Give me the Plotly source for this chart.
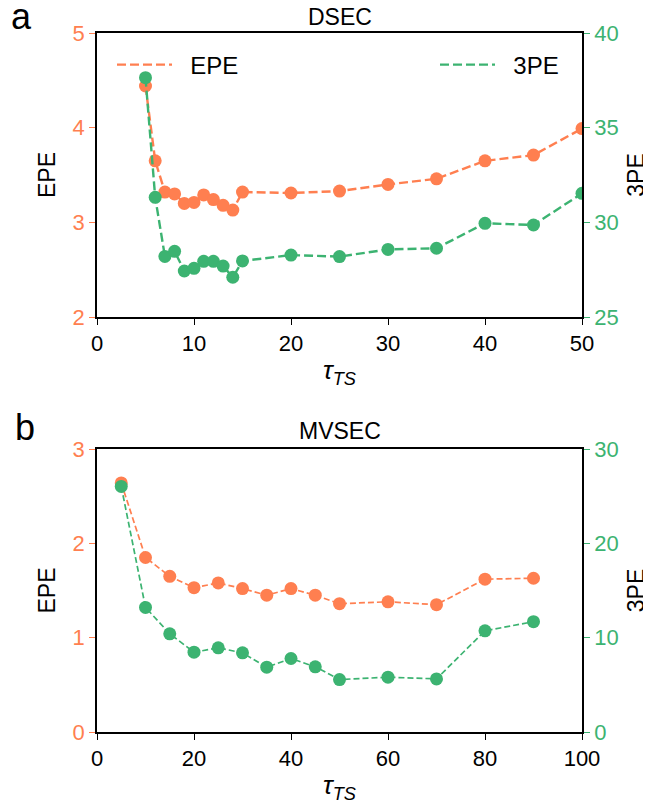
import plotly.graph_objects as go

# ---- data ----
dsec_tau = [5, 6, 7, 8, 9, 10, 11, 12, 13, 14, 15, 20, 25, 30, 35, 40, 45, 50]
dsec_epe = [4.44, 3.65, 3.32, 3.30, 3.20, 3.21, 3.29, 3.24, 3.18, 3.13, 3.32, 3.31, 3.33, 3.40, 3.46, 3.65, 3.71, 3.99]
dsec_3pe = [37.64, 31.32, 28.20, 28.47, 27.43, 27.57, 27.94, 27.94, 27.69, 27.10, 27.96, 28.27, 28.19, 28.57, 28.63, 29.95, 29.86, 31.53]

mvsec_tau = [5, 10, 15, 20, 25, 30, 35, 40, 45, 50, 60, 70, 80, 90]
mvsec_epe = [2.64, 1.85, 1.65, 1.53, 1.58, 1.52, 1.45, 1.52, 1.45, 1.36, 1.38, 1.35, 1.62, 1.63]
mvsec_3pe = [26.03, 13.21, 10.41, 8.46, 8.92, 8.39, 6.87, 7.79, 6.91, 5.56, 5.81, 5.63, 10.73, 11.69]

dsec_xticks = [0, 10, 20, 30, 40, 50]
mvsec_xticks = [0, 20, 40, 60, 80, 100]
dsec_epe_ticks = [2, 3, 4, 5]
dsec_3pe_ticks = [25, 30, 35, 40]
mvsec_epe_ticks = [0, 1, 2, 3]
mvsec_3pe_ticks = [0, 10, 20, 30]

ORANGE = "#FF7F50"
GREEN = "#3CB371"
FONT = "Liberation Sans, Arial, sans-serif"

W, H = 651, 805
OFF = 8  # default page body margin
ML, MR, MT, MB = 97, 69, 33, 73
PW, PH = W - ML - MR, H - MT - MB


def px_x(v):
    return (v - ML) / PW


def px_y(v):
    return (H - MB - v) / PH


top_dom = [px_y(317), 1.0]
bot_dom = [0.0, px_y(449)]

fig = go.Figure()

TOP_DASH = "9px,4px"
BOT_DASH = "6px,3px"

# top panel
fig.add_trace(go.Scatter(x=dsec_tau, y=dsec_epe, mode="lines+markers", xaxis="x", yaxis="y",
                         line=dict(color=ORANGE, width=2.4, dash=TOP_DASH),
                         marker=dict(color=ORANGE, size=13), showlegend=False))
fig.add_trace(go.Scatter(x=dsec_tau, y=dsec_3pe, mode="lines+markers", xaxis="x", yaxis="y2",
                         line=dict(color=GREEN, width=2.4, dash=TOP_DASH),
                         marker=dict(color=GREEN, size=13), showlegend=False))
# legend entries (line-only samples)
fig.add_trace(go.Scatter(x=[None], y=[None], mode="lines", xaxis="x", yaxis="y",
                         name="\u00a0\u00a0EPE",
                         line=dict(color=ORANGE, width=2.4, dash=TOP_DASH), legend="legend"))
fig.add_trace(go.Scatter(x=[None], y=[None], mode="lines", xaxis="x", yaxis="y2",
                         name="\u00a0\u00a03PE",
                         line=dict(color=GREEN, width=2.4, dash=TOP_DASH), legend="legend2"))

# bottom panel
fig.add_trace(go.Scatter(x=mvsec_tau, y=mvsec_epe, mode="lines+markers", xaxis="x2", yaxis="y3",
                         line=dict(color=ORANGE, width=1.7, dash=BOT_DASH),
                         marker=dict(color=ORANGE, size=13), showlegend=False))
fig.add_trace(go.Scatter(x=mvsec_tau, y=mvsec_3pe, mode="lines+markers", xaxis="x2", yaxis="y4",
                         line=dict(color=GREEN, width=1.7, dash=BOT_DASH),
                         marker=dict(color=GREEN, size=13), showlegend=False))

TICK_FS = 22
tickfont = dict(family=FONT, size=TICK_FS, color="black")
xtitle = dict(text="<i>τ</i><sub><i>TS</i></sub>", font=dict(family=FONT, size=26, color="black"), standoff=6)


def xaxis(dom_anchor, rng, ticks):
    return dict(domain=[0, 1], anchor=dom_anchor, range=rng, tickvals=ticks, ticks="outside",
                ticklen=6, tickwidth=1.3, tickcolor="black", showline=True, linecolor="black",
                linewidth=1.8, mirror=True, showgrid=False, zeroline=False, tickfont=tickfont,
                title=xtitle, automargin=False)


def yleft(dom, anchor, rng, ticks):
    return dict(domain=dom, anchor=anchor, range=rng, tickvals=ticks, ticks="outside",
                ticklen=6, tickwidth=1.3, tickcolor=ORANGE, showline=True, linecolor="black",
                linewidth=1.8, showgrid=False, zeroline=False, automargin=False,
                tickfont=dict(family=FONT, size=TICK_FS, color=ORANGE),
                title=dict(text="EPE", font=dict(family=FONT, size=23, color="black"), standoff=10))


def yright(overlay, anchor, rng, ticks):
    return dict(overlaying=overlay, side="right", anchor=anchor, range=rng, tickvals=ticks,
                ticks="outside", ticklen=6, tickwidth=1.3, tickcolor=GREEN, showline=True,
                linecolor="black", linewidth=1.8, showgrid=False, zeroline=False, automargin=False,
                tickfont=dict(family=FONT, size=TICK_FS, color=GREEN),
                title=dict(text="3PE", font=dict(family=FONT, size=23, color="black"), standoff=10))


def label(text, x, y, size):
    return dict(text=text, x=px_x(x), y=px_y(y), xref="paper", yref="paper", showarrow=False,
                xanchor="center", yanchor="middle", font=dict(family=FONT, size=size, color="black"))


fig.update_layout(
    width=W - OFF, height=H - OFF,
    margin=dict(l=ML - OFF, r=MR, t=MT - OFF, b=MB, autoexpand=False),
    paper_bgcolor="white", plot_bgcolor="white",
    font=dict(family=FONT, color="black"),
    xaxis=xaxis("y", [0, 50], dsec_xticks),
    yaxis=yleft(top_dom, "x", [2, 5], dsec_epe_ticks),
    yaxis2=yright("y", "x", [25, 40], dsec_3pe_ticks),
    xaxis2=xaxis("y3", [0, 100], mvsec_xticks),
    yaxis3=yleft(bot_dom, "x2", [0, 3], mvsec_epe_ticks),
    yaxis4=yright("y3", "x2", [0, 30], mvsec_3pe_ticks),
    legend=dict(x=px_x(112), y=px_y(65), xanchor="left", yanchor="middle", itemwidth=55,
                bgcolor="rgba(0,0,0,0)", font=dict(family=FONT, size=24, color="black")),
    legend2=dict(x=px_x(435), y=px_y(65), xanchor="left", yanchor="middle", itemwidth=55,
                 bgcolor="rgba(0,0,0,0)", font=dict(family=FONT, size=24, color="black")),
    annotations=[
        label("DSEC", 340, 17, 23),
        label("MVSEC", 340, 431, 23),
        label("a", 21, 16, 36),
        label("b", 25, 427, 36),
    ],
)

fig.write_html("out.html")
